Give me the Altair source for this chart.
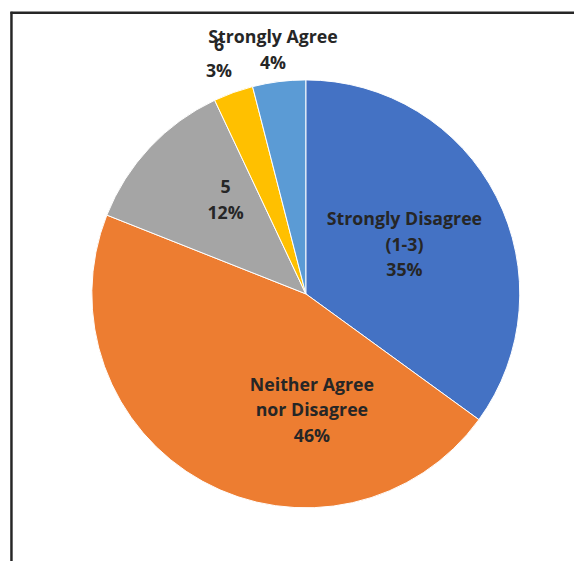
import altair as alt
import pandas as pd

categories = ["Strongly Disagree (1-3)", "Neither Agree nor Disagree", "5", "6", "Strongly Agree"]
percents = [35, 46, 12, 3, 4]
label_lines = ["Strongly Disagree\n(1-3)", "Neither Agree\nnor Disagree", "5", "6", "Strongly Agree"]
colors = ["#4472C4", "#ED7D31", "#A5A5A5", "#FFC000", "#5B9BD5"]

df = pd.DataFrame({
    "category": categories,
    "pct": percents,
    "order": list(range(len(categories))),
    "label": [f"{l}\n{p}%" for l, p in zip(label_lines, percents)],
})

CX, CY, R = 302, 286, 217
LH = 26
theta_scale = alt.Scale(domain=[0, 100], range=[0, 6.283185307179586])

base = (
    alt.Chart(df)
    .transform_window(end="sum(pct)", sort=[alt.SortField("order")], frame=[None, 0])
    .transform_calculate(start="datum.end - datum.pct", mid="datum.end - datum.pct / 2")
)

pie = base.mark_arc(outerRadius=R, stroke="white", strokeWidth=1).encode(
    theta=alt.Theta("start:Q", scale=theta_scale, stack=None),
    theta2="end:Q",
    color=alt.Color("category:N", scale=alt.Scale(domain=categories, range=colors), legend=None),
    x=alt.value(CX),
    y=alt.value(CY),
)


def label_layer(cat, radius, nlines, dx=0, dy=0):
    return base.transform_filter(alt.datum.category == cat).mark_text(
        radius=radius, dx=dx, dy=dy - (nlines - 1) * LH / 2, font="Open Sans", fontSize=18,
        fontWeight="bold", color="#262626", lineBreak="\n", lineHeight=LH,
        align="center", baseline="middle",
    ).encode(
        theta=alt.Theta("mid:Q", scale=theta_scale, stack=None),
        text="label:N",
        x=alt.value(CX),
        y=alt.value(CY),
    )


labels = [
    label_layer(categories[0], 110, 3, dx=2, dy=1),
    label_layer(categories[1], 120, 3, dx=64, dy=14),
    label_layer(categories[2], 124, 2, dx=9, dy=-9),
    label_layer(categories[3], 254, 2, dx=-2, dy=1),
    label_layer(categories[4], 249, 2, dx=-2, dy=1),
]

frame_src = alt.Chart(pd.DataFrame({"a": [0]})).mark_rule(color="#262626", strokeWidth=2.5)
left = frame_src.encode(x=alt.value(3.5), y=alt.value(0), y2=alt.value(560))
top = frame_src.encode(x=alt.value(2.5), x2=alt.value(574), y=alt.value(0.8))

chart = alt.layer(pie, *labels, left, top).properties(
    width=574, height=553, padding=0,
    autosize=alt.AutoSizeParams(type="none"),
).configure_view(stroke=None)

chart.save("out.html", embed_options={"renderer": "svg", "actions": False})
